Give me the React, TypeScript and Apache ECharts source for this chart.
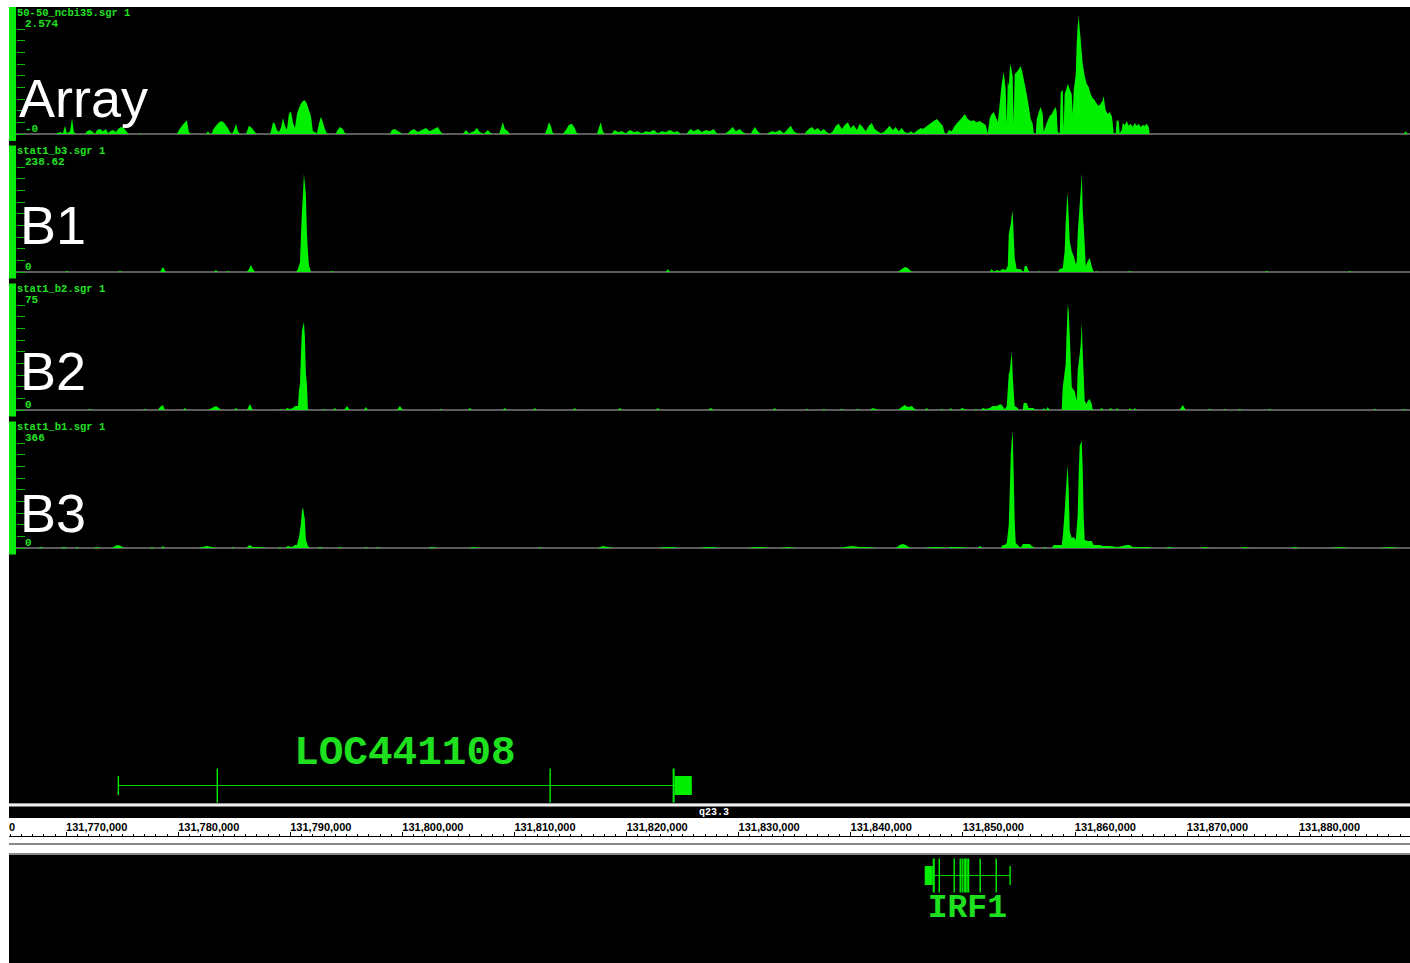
import React, { useEffect, useRef } from 'react';
import * as echarts from 'echarts';

// ---------- genomic window (bp) ----------
const ORIGIN_BP = 131760000;
const VIEW_START_BP = 131760000;
const VIEW_END_BP = 131890000;
const RULER_STEP_BP = 10000;

// ---------- tracks ----------
const TRACK_FILES = ['50-50_ncbi35.sgr 1', 'stat1_b3.sgr 1', 'stat1_b2.sgr 1', 'stat1_b1.sgr 1'];
const TRACK_TITLES = ['Array', 'B1', 'B2', 'B3'];
const TRACK_MAX = [2.574, 238.62, 75, 366];
const TRACK_MAX_LABELS = ['2.574', '238.62', '75', '366'];
const TRACK_ZERO_LABELS = ['-0', '0', '0', '0'];
const TRACK_TICK_COUNT = 9;

// signal: [position in kb from ORIGIN_BP, value]
const ARRAY_SIGNAL: [number, number][] = [
  [9.01,0],[9.19,0.02],[9.46,0.05],[9.72,0.02],[9.90,0.20],[10.08,0.02],[10.35,0.07],[10.53,0.39],[10.70,0.05],[10.88,0],
  [11.69,0],[11.86,0.07],[12.13,0.10],[12.40,0.05],[12.58,0],[12.76,0.10],[13.02,0.12],[13.29,0.07],[13.56,0.12],[13.74,0.02],[13.92,0.07],[14.18,0.10],[14.45,0.05],[14.63,0.12],[14.90,0.17],[15.16,0.15],[15.43,0.05],[15.61,0],
  [16.50,0],[16.59,0.02],[16.77,0],
  [19.89,0],[20.07,0.10],[20.34,0.20],[20.61,0.29],[20.78,0.34],[20.96,0.05],[21.14,0],
  [22.48,0],[22.66,0.07],[22.84,0],[23.01,0],[23.10,0.10],[23.37,0.20],[23.64,0.29],[23.91,0.32],[24.17,0.25],[24.44,0.15],[24.62,0.05],[24.80,0],[24.98,0.10],[25.16,0.25],[25.33,0.07],[25.51,0],
  [26.05,0],[26.14,0.07],[26.32,0.20],[26.58,0.15],[26.85,0.05],[27.03,0],
  [28.19,0],[28.28,0.07],[28.46,0.29],[28.63,0.25],[28.81,0.10],[28.99,0.05],[29.17,0.15],[29.35,0.39],[29.53,0.20],[29.70,0.10],[29.88,0.49],[30.06,0.56],[30.24,0.29],[30.42,0.15],[30.60,0.49],[30.78,0.64],[30.95,0.74],[31.13,0.81],[31.31,0.83],[31.49,0.74],[31.67,0.59],[31.85,0.44],[32.02,0.07],[32.20,0.05],[32.38,0.02],[32.56,0.25],[32.74,0.42],[32.92,0.29],[33.09,0.12],[33.27,0.02],[33.54,0],
  [34.07,0],[34.16,0.07],[34.43,0.17],[34.70,0.12],[34.88,0.02],[35.06,0],
  [38.89,0],[39.07,0.10],[39.34,0.12],[39.61,0.07],[39.78,0.05],[39.96,0],
  [40.50,0],[40.68,0.07],[41.03,0.12],[41.39,0.05],[41.75,0.10],[42.10,0.15],[42.46,0.07],[42.82,0.12],[43.17,0.17],[43.44,0.05],[43.62,0],
  [45.40,0],[45.67,0.10],[45.94,0.02],[46.39,0.07],[46.65,0.15],[46.92,0.05],[47.28,0],[47.63,0.10],[47.90,0.02],[48.17,0],
  [48.61,0],[48.70,0.05],[48.97,0.29],[49.15,0.12],[49.42,0.07],[49.60,0],
  [52.72,0],[52.90,0.12],[53.08,0.29],[53.25,0.20],[53.43,0.02],[53.61,0],
  [54.32,0],[54.59,0.10],[54.86,0.22],[55.13,0.25],[55.39,0.15],[55.57,0.02],[55.75,0],
  [57.36,0],[57.53,0.15],[57.71,0.29],[57.89,0.07],[58.07,0],
  [58.61,0],[58.70,0.02],[58.96,0.10],[59.23,0.05],[59.59,0.07],[59.94,0.02],[60.30,0.10],[60.66,0.05],[61.01,0.07],[61.37,0.02],[61.73,0.07],[62.08,0.05],[62.44,0.10],[62.80,0.02],[63.16,0.07],[63.51,0.05],[63.87,0.10],[64.22,0.05],[64.58,0.07],[64.85,0],
  [65.38,0],[65.47,0.05],[65.74,0.12],[66.01,0.07],[66.37,0.12],[66.72,0.05],[67.08,0.10],[67.44,0.07],[67.79,0.12],[68.06,0.02],[68.33,0],
  [68.77,0],[68.86,0.02],[69.22,0.10],[69.49,0.17],[69.76,0.07],[70.11,0.12],[70.38,0.05],[70.65,0],
  [71.09,0],[71.18,0.05],[71.45,0.17],[71.72,0.07],[71.99,0],
  [72.52,0],[72.61,0.02],[72.97,0.07],[73.32,0.05],[73.68,0.10],[74.04,0.02],[74.39,0.12],[74.66,0.20],[74.93,0.07],[75.20,0.02],[75.46,0],
  [75.91,0],[76.00,0.05],[76.27,0.12],[76.54,0.17],[76.80,0.10],[77.07,0.15],[77.34,0.07],[77.61,0.12],[77.87,0.05],[78.14,0],
  [78.41,0.07],[78.68,0.20],[78.94,0.25],[79.21,0.12],[79.48,0.22],[79.75,0.29],[80.01,0.15],[80.28,0.22],[80.55,0.10],[80.82,0.25],[81.08,0.17],[81.35,0.07],[81.62,0.20],[81.89,0.27],[82.15,0.12],[82.42,0.07],[82.69,0.02],[82.96,0.05],[83.22,0.12],[83.49,0.20],[83.76,0.10],[84.03,0.17],[84.30,0.07],[84.56,0.15],[84.83,0.05],[85.10,0.02],[85.37,0.07],[85.63,0.02],[85.99,0.10],[86.26,0.15],[86.44,0.12],[86.70,0.17],[87.06,0.25],[87.42,0.32],[87.69,0.37],[87.95,0.29],[88.22,0.20],[88.40,0.02],[88.58,0],[88.76,0.10],[89.02,0.07],[89.29,0.20],[89.56,0.29],[89.92,0.39],[90.18,0.49],[90.45,0.37],[90.72,0.32],[90.99,0.34],[91.25,0.29],[91.52,0.32],[91.79,0.27],[92.06,0.22],[92.23,0.02],[92.41,0.39],[92.59,0.49],[92.77,0.54],[92.95,0.42],[93.13,0.29],[93.30,0.74],[93.48,1.23],[93.66,1.52],[93.84,1.10],[93.93,0.25],[94.02,1.30],[94.11,1.18],[94.20,1.59],[94.29,1.72],[94.38,1.54],[94.46,1.42],[94.55,0.25],[94.64,1.47],[94.82,1.52],[95.00,1.59],[95.18,1.67],[95.36,1.47],[95.53,1.23],[95.71,0.98],[95.89,0.69],[96.07,0.37],[96.25,0.25],[96.34,0.02],[96.52,0],[96.61,0.37],[96.79,0.54],[96.96,0.66],[97.14,0.49],[97.23,0.05],[97.41,0.20],[97.59,0.34],[97.77,0.44],[97.95,0.49],[98.12,0.59],[98.30,0.66],[98.39,0.54],[98.48,0.05],[98.66,0.02],[98.75,1.03],[98.93,1.08],[99.01,0.12],[99.10,0.98],[99.28,1.13],[99.37,1.23],[99.55,1.10],[99.73,0.98],[99.82,0.49],[99.91,1.08],[100.09,1.47],[100.17,2.21],[100.26,2.65],[100.35,2.89],[100.44,2.57],[100.53,2.33],[100.62,2.01],[100.71,1.72],[100.89,1.42],[101.06,1.23],[101.24,1.15],[101.42,0.98],[101.60,0.88],[101.78,0.83],[101.96,0.74],[102.14,0.69],[102.31,0.74],[102.49,0.83],[102.58,0.93],[102.67,0.74],[102.76,0.59],[102.94,0.49],[103.12,0.54],[103.30,0.44],[103.38,0.29],[103.47,0.02],[103.65,0],[103.74,0.34],[103.92,0.32],[104.01,0.02],[104.19,0.10],[104.28,0.27],[104.46,0.22],[104.64,0.32],[104.81,0.20],[104.99,0.25],[105.17,0.17],[105.35,0.27],[105.53,0.20],[105.71,0.25],[105.89,0.17],[106.06,0.22],[106.24,0.20],[106.42,0.25],[106.60,0.17],[106.69,0],
  [129.35,0],[129.52,0.07],[129.70,0],
];

const B1_SIGNAL: [number, number][] = [
  [9.90,0],[10.08,2.3],[10.26,0],
  [14.63,0],[14.81,2.3],[14.99,0],
  [18.38,0],[18.64,11.4],[18.91,0],
  [23.19,0],[23.37,4.5],[23.55,0],
  [24.26,0],[24.44,2.3],[24.62,0],
  [26.14,0],[26.32,6.8],[26.49,15.9],[26.67,6.8],[26.85,0],
  [30.51,0],[30.69,6.8],[30.87,22.7],[30.96,84.1],[31.04,136.4],[31.13,175.0],[31.22,222.7],[31.31,200.0],[31.40,175.0],[31.49,90.9],[31.58,45.5],[31.67,15.9],[31.85,0],
  [33.54,0],[33.72,2.3],[33.90,0],
  [63.51,0],[63.69,6.8],[63.87,0],
  [84.21,0],[84.57,6.8],[84.83,11.4],[85.10,9.1],[85.37,2.3],[85.55,0],
  [92.41,0],[92.59,6.8],[92.77,0],[93.04,4.5],[93.30,2.3],[93.57,6.8],[93.84,4.5],[94.02,13.6],[94.11,86.4],[94.29,109.1],[94.38,127.3],[94.46,138.6],[94.55,86.4],[94.64,31.8],[94.82,6.8],[95.09,6.8],[95.27,4.5],[95.45,0],[95.53,13.6],[95.71,13.6],[95.89,2.3],[95.98,0],
  [96.79,0],[96.87,2.3],[96.96,0],
  [98.48,0],[98.66,6.8],[98.93,9.1],[99.10,47.7],[99.19,111.4],[99.28,154.5],[99.37,179.5],[99.46,122.7],[99.55,70.5],[99.73,47.7],[99.91,36.4],[100.09,18.2],[100.17,22.7],[100.26,86.4],[100.44,154.5],[100.53,184.1],[100.62,225.0],[100.71,143.2],[100.89,63.6],[100.98,13.6],[101.16,25.0],[101.33,31.8],[101.51,13.6],[101.69,0],
  [101.87,0],[101.96,2.3],[102.05,0],
  [104.72,0],[104.90,2.3],[105.08,0],
  [116.94,0],[117.12,2.3],[117.30,0],
  [124.35,0],[124.53,2.3],[124.71,0],
];

const B2_SIGNAL: [number, number][] = [
  [11.95,0],[12.13,0.7],[12.31,0],
  [16.86,0],[17.04,0.7],[17.22,0],
  [18.20,0],[18.38,2.1],[18.64,3.6],[18.82,0],
  [20.43,0],[20.61,1.4],[20.78,0],
  [22.66,0],[23.01,1.4],[23.37,2.9],[23.64,1.4],[23.82,0],
  [24.98,0],[25.16,1.4],[25.33,0],
  [26.14,0],[26.40,4.3],[26.67,0],
  [28.99,0],[29.17,0.7],[29.35,0],
  [29.53,0],[29.70,1.4],[29.97,0.7],[30.24,1.4],[30.42,2.9],[30.69,2.9],[30.78,14.3],[30.87,18.6],[30.95,38.6],[31.04,56.4],[31.22,62.9],[31.31,52.1],[31.40,25.7],[31.49,18.6],[31.58,0.7],[31.67,0],
  [32.83,0],[33.01,0.7],[33.18,0],
  [33.81,0],[33.99,1.4],[34.16,0],
  [34.79,0],[35.06,2.9],[35.32,0],
  [36.57,0],[36.75,2.1],[36.93,0],
  [39.52,0],[39.78,2.9],[40.05,0],
  [43.26,0],[43.44,0.7],[43.62,0],
  [45.85,0],[46.03,1.4],[46.21,0],
  [48.97,0],[49.15,1.4],[49.33,0],
  [51.65,0],[51.83,1.4],[52.01,0],
  [55.22,0],[55.39,1.4],[55.57,0],
  [59.23,0],[59.41,1.4],[59.59,0],
  [62.62,0],[62.80,1.4],[62.98,0],
  [67.26,0],[67.53,1.4],[67.79,0],
  [73.06,0],[73.23,1.4],[73.41,0],
  [75.91,0],[76.09,0.7],[76.27,0],
  [77.43,0],[77.61,0.7],[77.78,0],
  [79.03,0],[79.21,0.7],[79.39,0],
  [80.46,0],[80.64,0.7],[80.82,0],
  [81.71,0],[81.98,1.4],[82.24,0.7],[82.51,0],
  [84.21,0],[84.56,2.1],[84.83,3.6],[85.10,2.1],[85.46,2.9],[85.72,0.7],[85.90,0],
  [86.62,0],[86.79,1.4],[86.97,0],
  [87.95,0],[88.13,0.7],[88.31,0],
  [88.84,0],[88.93,1.4],[89.11,0],
  [89.74,0],[89.92,1.4],[90.18,0.7],[90.36,0],
  [90.99,0],[91.17,0.7],[91.34,0],
  [91.61,0],[91.79,1.4],[92.06,0.7],[92.41,1.4],[92.68,2.9],[93.04,2.9],[93.39,4.3],[93.57,2.9],[93.75,0.5],[93.93,2.9],[94.11,25.7],[94.20,27.9],[94.29,35.0],[94.38,41.4],[94.46,25.7],[94.55,13.6],[94.64,2.9],[94.91,1.4],[95.00,0],
  [95.36,0],[95.44,5.0],[95.71,5.0],[95.89,1.4],[96.34,1.4],[96.43,0],[96.61,0.7],[96.70,0],
  [97.14,0],[97.23,1.4],[97.41,0],[97.59,2.1],[97.76,0],
  [98.83,0],[98.92,15.7],[99.19,32.9],[99.25,49.3],[99.31,62.1],[99.37,75.7],[99.46,70.7],[99.55,54.3],[99.73,17.1],[99.82,15.0],[99.99,13.6],[100.17,6.4],[100.26,27.9],[100.44,40.0],[100.53,47.1],[100.62,62.1],[100.71,42.1],[100.89,6.4],[101.06,4.3],[101.15,6.4],[101.33,7.9],[101.51,4.3],[101.60,0.7],[101.69,0],
  [102.22,0],[102.40,1.4],[102.58,0],
  [103.03,0],[103.21,1.4],[103.39,0],
  [103.66,0],[103.74,1.4],[103.92,0],
  [104.81,0],[104.90,1.4],[105.07,0],
  [105.25,0],[105.35,1.4],[105.53,0],
  [109.36,0],[109.63,3.6],[109.90,0],
  [111.86,0],[112.04,0.7],[112.22,0],
  [113.20,0],[113.38,0.7],[113.55,0],
  [114.53,0],[114.71,0.7],[114.89,0],
  [117.21,0],[117.39,0.7],[117.57,0],
  [126.58,0],[126.75,0.7],[126.93,0],
  [129.25,0],[129.43,0.7],[129.61,0],
];

const B3_SIGNAL: [number, number][] = [
  [7.49,0],[7.76,3.5],[8.03,0],
  [9.46,0],[9.81,3.5],[10.17,0],
  [10.79,0],[10.97,3.5],[11.15,0],
  [12.40,0],[12.76,3.5],[13.11,0],
  [14.09,0],[14.36,7.0],[14.63,10.5],[14.90,7.0],[15.17,0],
  [17.48,0],[17.66,3.5],[17.84,0],
  [18.47,0],[18.64,7.0],[18.82,0],
  [21.77,0],[22.12,3.5],[22.57,7.0],[23.01,3.5],[23.46,0],
  [24.71,0],[24.89,3.5],[25.07,0],
  [26.05,0],[26.40,10.5],[26.67,3.5],[27.30,3.5],[27.92,0],
  [28.90,0],[29.08,3.5],[29.26,0],
  [29.53,0],[29.79,7.0],[30.15,3.5],[30.42,10.5],[30.60,10.5],[30.78,38.3],[30.95,83.7],[31.04,125.5],[31.13,142.9],[31.31,97.6],[31.40,27.9],[31.58,7.0],[31.76,0],
  [32.38,0],[32.65,3.5],[33.01,0],
  [34.16,0],[34.43,3.5],[34.70,0],
  [36.57,0],[36.75,3.5],[36.93,0],
  [37.64,0],[37.82,3.5],[38.00,0],
  [42.28,0],[42.64,3.5],[43.17,0],
  [45.85,0],[46.39,3.5],[46.92,0],
  [52.10,0],[52.27,3.5],[52.45,0],
  [57.45,0],[57.89,7.0],[58.34,3.5],[58.87,0],
  [62.80,0],[63.42,3.5],[64.05,3.5],[64.76,0],
  [66.54,0],[67.08,3.5],[67.61,3.5],[68.33,0],
  [70.83,0],[71.45,3.5],[72.08,3.5],[72.79,0],
  [73.68,0],[74.39,3.5],[75.11,0],
  [78.85,0],[79.48,3.5],[80.10,7.0],[80.82,3.5],[81.53,3.5],[82.24,0],
  [84.03,0],[84.38,10.5],[84.65,13.9],[84.92,10.5],[85.19,3.5],[85.46,0],
  [86.62,0],[87.24,3.5],[87.95,3.5],[88.67,0],[88.84,3.5],[89.74,3.5],[90.63,0],
  [91.34,0],[91.52,7.0],[91.79,0],
  [93.39,0],[93.57,10.5],[93.75,10.5],[93.93,17.4],[94.11,80.2],[94.20,202.2],[94.29,324.2],[94.37,373.0],[94.46,407.9],[94.55,261.5],[94.64,94.1],[94.73,17.4],[94.91,10.5],[95.18,0],[95.36,13.9],[95.71,13.9],[95.98,13.9],[96.16,7.0],[96.43,0],
  [97.14,0],[97.32,3.5],[97.50,0],
  [97.95,0],[98.12,10.5],[98.48,10.5],[98.84,10.5],[98.93,41.8],[99.10,129.0],[99.28,244.0],[99.37,289.3],[99.46,198.7],[99.55,59.3],[99.73,34.9],[99.91,38.3],[100.09,27.9],[100.26,115.0],[100.35,261.5],[100.44,355.6],[100.62,373.0],[100.71,278.9],[100.80,104.6],[100.89,27.9],[101.16,24.4],[101.51,24.4],[101.69,10.5],[102.22,10.5],[102.49,7.0],[103.12,7.0],[103.83,3.5],[104.63,10.5],[104.90,10.5],[105.17,3.5],[105.79,3.5],[106.68,3.5],[106.86,0],
  [108.02,0],[108.47,3.5],[108.92,0],
  [111.15,0],[111.60,3.5],[112.04,0],
  [114.72,0],[115.16,3.5],[115.61,0],
  [119.18,0],[119.62,3.5],[120.07,0],
  [122.74,0],[123.63,3.5],[124.52,0],
  [127.20,0],[128.09,3.5],[128.98,0],
];

const TRACK_SIGNALS = [ARRAY_SIGNAL, B1_SIGNAL, B2_SIGNAL, B3_SIGNAL];

// ---------- gene models (kb from ORIGIN_BP) ----------
const LOC441108_SPAN: [number, number] = [14.63, 65.83];
const LOC441108_EXONS: [number, number, string][] = [
  [14.60, 14.66, 'utr'], [23.43, 23.49, 'cds'], [53.13, 53.19, 'cds'], [64.12, 64.30, 'cds'], [64.30, 65.83, 'utr'],
];
const IRF1_SPAN: [number, number] = [86.61, 94.22];
const IRF1_EXONS: [number, number, string][] = [
  [86.61, 87.33, 'utr'], [87.33, 87.51, 'cds'], [87.85, 87.90, 'cds'], [89.18, 89.23, 'cds'], [89.72, 89.77, 'cds'],
  [89.89, 89.94, 'cds'], [90.07, 90.12, 'cds'], [90.19, 90.24, 'cds'], [90.33, 90.38, 'cds'], [90.46, 90.51, 'cds'],
  [91.50, 91.55, 'cds'], [92.93, 92.98, 'cds'], [94.17, 94.22, 'utr'],
];
const CYTOBAND_LABEL = 'q23.3';

const toBp = (kb: number) => ORIGIN_BP + Math.round(kb * 1000);

// ---------- layout ----------
const W = 1401;
const H = 956;
const GRID_LEFT = -55;
const GRID_WIDTH = 1457;
const TRACK_PITCH = 138;
const PLOT_TOP = 22;
const PLOT_H = 105;
const GREEN = '#00f000';
const TITLE_Y = [91, 218, 363.5, 506];
const TITLE_X = [10, 11, 11, 11];

function buildOption() {
  const grid: any[] = [];
  const xAxis: any[] = [];
  const yAxis: any[] = [];
  const series: any[] = [];
  const graphic: any[] = [];

  for (let k = 0; k < 4; k++) {
    grid.push({ left: GRID_LEFT, width: GRID_WIDTH, top: PLOT_TOP + TRACK_PITCH * k, height: PLOT_H, outerBoundsMode: 'none', containLabel: false });
    xAxis.push({
      gridIndex: k, type: 'value', min: VIEW_START_BP, max: VIEW_END_BP,
      axisLine: { show: true, onZero: false, lineStyle: { color: '#5c5c5c', width: 2 } },
      axisTick: { show: false }, axisLabel: { show: false }, splitLine: { show: false },
    });
    const max = TRACK_MAX[k];
    const maxLabel = TRACK_MAX_LABELS[k];
    const zeroLabel = TRACK_ZERO_LABELS[k];
    yAxis.push({
      gridIndex: k, type: 'value', min: 0, max, interval: max / TRACK_TICK_COUNT,
      position: 'left', offset: -63,
      axisLine: { show: false },
      axisTick: { show: true, inside: true, length: 8, lineStyle: { color: '#14b814', width: 1 } },
      splitLine: { show: false },
      axisLabel: {
        show: true, inside: true, margin: 8, verticalAlign: 'bottom', color: '#22e022',
        fontFamily: 'Liberation Mono', fontWeight: 'bold', fontSize: 11,
        formatter: (v: number) => {
          if (Math.abs(v) < 1e-9) return zeroLabel;
          if (Math.abs(v - max) < max * 1e-4) return maxLabel;
          return '';
        },
      },
    });
    series.push({
      type: 'line', xAxisIndex: k, yAxisIndex: k,
      data: TRACK_SIGNALS[k].map(([kb, v]) => [toBp(kb), v]),
      symbol: 'none', showSymbol: false, clip: false, silent: true, z: 3,
      lineStyle: { width: 0, opacity: 0 },
      areaStyle: { color: GREEN, opacity: 1 },
    });
    // track handle
    graphic.push({
      type: 'rect', z: 20,
      shape: { x: 0, y: k === 0 ? 0 : TRACK_PITCH * k + 0.5, width: 7, height: k === 0 ? 134 : 133 },
      style: { fill: '#0be80b' },
    });
    graphic.push({
      type: 'text', z: 20, x: 8, y: 5.5 + TRACK_PITCH * k,
      style: { text: TRACK_FILES[k], fill: '#22e022', font: 'bold 10.5px "Liberation Mono"', verticalAlign: 'middle' },
    });
    graphic.push({
      type: 'text', z: 20, x: TITLE_X[k], y: TITLE_Y[k],
      style: { text: TRACK_TITLES[k], fill: '#ffffff', font: '54px "Liberation Sans"', verticalAlign: 'middle' },
    });
  }

  // gene grids (4, 5) and ruler grid (6)
  const geneGridTops = [738, 828];
  geneGridTops.forEach((top, i) => {
    const gi = 4 + i;
    grid.push({ left: GRID_LEFT, width: GRID_WIDTH, top, height: 80, outerBoundsMode: 'none', containLabel: false });
    xAxis.push({ gridIndex: gi, type: 'value', min: VIEW_START_BP, max: VIEW_END_BP, show: false });
    yAxis.push({ gridIndex: gi, type: 'value', min: 0, max: 2, show: false });
  });
  grid.push({ left: GRID_LEFT, width: GRID_WIDTH, top: 811, height: 18, outerBoundsMode: 'none', containLabel: false });
  xAxis.push({
    gridIndex: 6, type: 'value', min: VIEW_START_BP, max: VIEW_END_BP, interval: RULER_STEP_BP, position: 'bottom', z: 10,
    axisLine: { show: true, onZero: false, lineStyle: { color: '#000', width: 1 } },
    axisTick: { show: true, inside: true, length: 4, lineStyle: { color: '#000' } },
    minorTick: { show: true, splitNumber: 10, length: 2, lineStyle: { color: '#000' } },
    axisLabel: {
      show: true, inside: true, margin: 4, align: 'left', color: '#000', fontSize: 11,
      fontFamily: 'Liberation Sans', fontWeight: 'bold', showMaxLabel: false,
      formatter: (v: number) => Number(v).toLocaleString('en-US'),
    },
    splitLine: { show: false },
  });
  yAxis.push({ gridIndex: 6, type: 'value', min: 0, max: 1, show: false });

  const genes = [
    { name: 'LOC441108', span: LOC441108_SPAN, exons: LOC441108_EXONS, labelOffset: -33, fontSize: 41, gi: 4 },
    { name: 'IRF1', span: IRF1_SPAN, exons: IRF1_EXONS, labelOffset: 33, fontSize: 33, gi: 5 },
  ];
  genes.forEach((g) => {
    series.push({
      type: 'custom', xAxisIndex: g.gi, yAxisIndex: g.gi, clip: false, silent: true, z: 4,
      encode: { x: [0, 1], y: 2 },
      data: [[toBp(g.span[0]), toBp(g.span[1]), 1]],
      renderItem: (_params: any, api: any) => {
        const p0 = api.coord([api.value(0), api.value(2)]);
        const p1 = api.coord([api.value(1), api.value(2)]);
        const y = Math.round(p0[1]) + 0.5;
        const children: any[] = [
          { type: 'line', shape: { x1: p0[0], y1: y, x2: p1[0], y2: y }, style: { stroke: '#00d800', lineWidth: 1 } },
        ];
        g.exons.forEach(([s, e, kind]) => {
          const xs = api.coord([toBp(s), 1])[0];
          const xe = api.coord([toBp(e), 1])[0];
          const h = kind === 'cds' ? 34 : 19;
          children.push({
            type: 'rect',
            shape: { x: xs, y: y - h / 2, width: Math.max(1.4, xe - xs), height: h },
            style: { fill: '#00ee00' },
          });
        });
        children.push({
          type: 'text',
          style: {
            text: g.name, x: (p0[0] + p1[0]) / 2, y: y + g.labelOffset, fill: '#1ee01e',
            font: `bold ${g.fontSize}px "Liberation Mono"`, align: 'center', verticalAlign: 'middle',
          },
        });
        return { type: 'group', children };
      },
    });
  });

  // ruler / cytoband panel backgrounds
  graphic.push(
    { type: 'rect', z: 1, shape: { x: 0, y: 796, width: W, height: 4 }, style: { fill: '#efefef' } },
    { type: 'line', z: 1, shape: { x1: 0, y1: 796.5, x2: W, y2: 796.5 }, style: { stroke: '#9a9a9a', lineWidth: 1 } },
    { type: 'line', z: 1, shape: { x1: 0, y1: 799.5, x2: W, y2: 799.5 }, style: { stroke: '#7a7a7a', lineWidth: 1 } },
    { type: 'rect', z: 1, shape: { x: 0, y: 811, width: W, height: 37 }, style: { fill: '#ffffff' } },
    { type: 'line', z: 1, shape: { x1: 0, y1: 837, x2: W, y2: 837 }, style: { stroke: '#8a8a8a', lineWidth: 2 } },
    { type: 'line', z: 1, shape: { x1: 0, y1: 847, x2: W, y2: 847 }, style: { stroke: '#8a8a8a', lineWidth: 2 } },
    { type: 'text', z: 20, x: 690, y: 805, style: { text: CYTOBAND_LABEL, fill: '#ffffff', font: 'bold 10px "Liberation Mono"', verticalAlign: 'middle' } },
  );

  return {
    animation: false,
    backgroundColor: '#000000',
    grid, xAxis, yAxis, series, graphic,
  };
}

export default function App() {
  const ref = useRef<HTMLDivElement>(null);
  useEffect(() => {
    if (!ref.current) return;
    const chart = echarts.init(ref.current, null, { renderer: 'svg' });
    chart.setOption(buildOption() as any);
    return () => chart.dispose();
  }, []);
  return (
    <div
      ref={ref}
      style={{ position: 'absolute', left: 9, top: 7, width: W, height: H, background: '#000', overflow: 'hidden' }}
    />
  );
}
